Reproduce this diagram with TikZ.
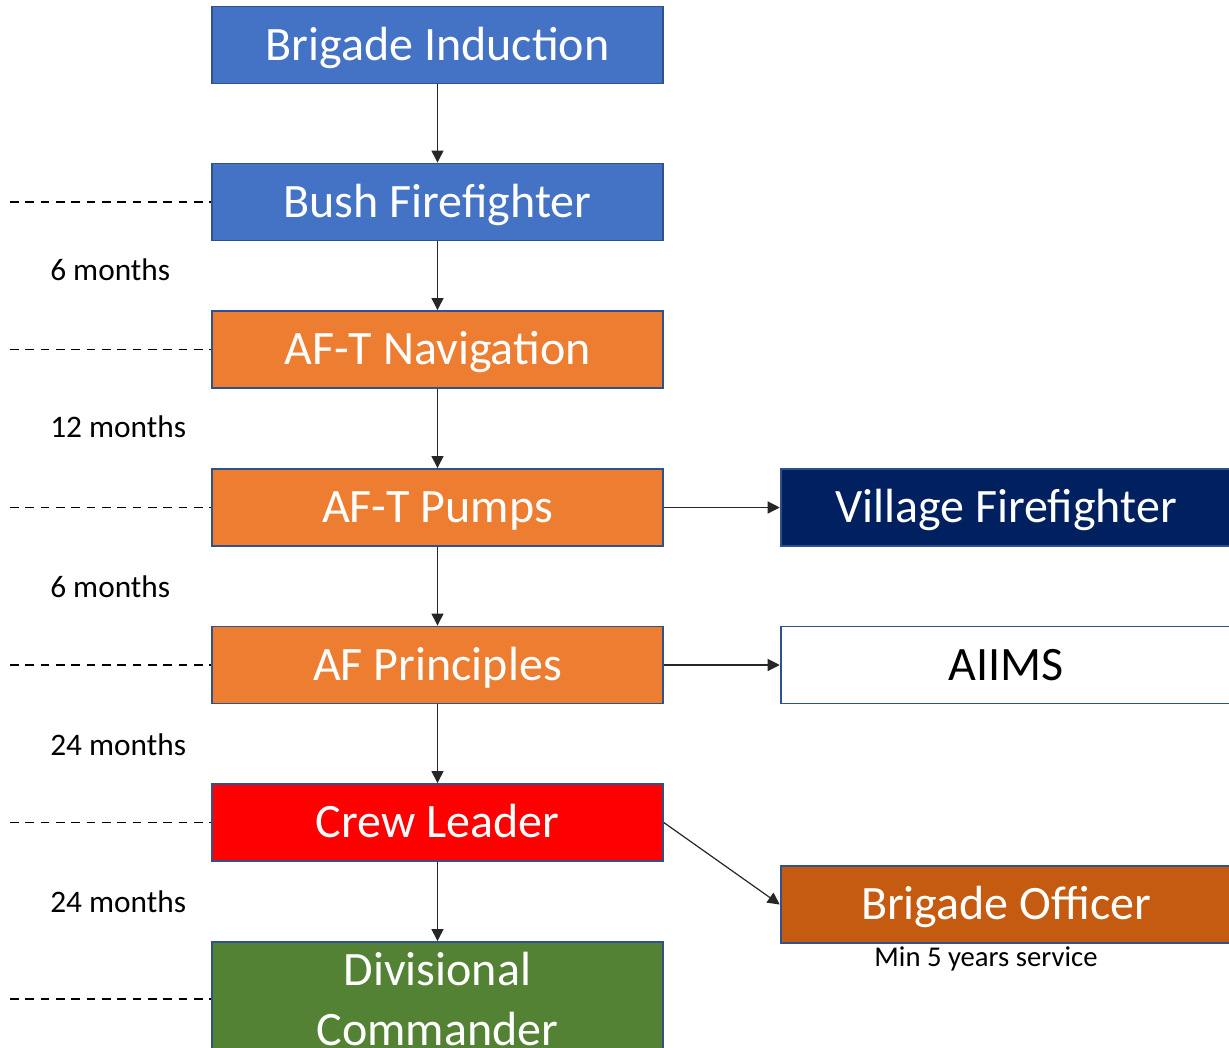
\documentclass[tikz,border=0pt]{standalone}
\usepackage{fontspec}
\setmainfont{Carlito}
\usetikzlibrary{arrows.meta}
\definecolor{cblue}{HTML}{4472C4}
\definecolor{corange}{HTML}{ED7D31}
\definecolor{cnavy}{HTML}{002060}
\definecolor{cred}{HTML}{FF0000}
\definecolor{cbrown}{HTML}{C55A11}
\definecolor{cgreen}{HTML}{548235}
\definecolor{bordc}{HTML}{2F528F}
\begin{document}
\begin{tikzpicture}[x=0.75pt,y=-0.75pt,
  box/.style={draw=bordc, line width=1.4pt, minimum width=338pt, minimum height=57.75pt,
    inner sep=0pt, text=white, font=\fontsize{36}{43}\selectfont, align=center},
  onel/.style={text height=27pt, text depth=4pt},
  conn/.style={draw=black!85, line width=0.9pt, -{Triangle[length=9pt,width=9pt]}},
  guide/.style={draw=black, line width=1.1pt, dash pattern=on 6.5pt off 5pt},
  lbl/.style={font=\fontsize{23.5}{28}\selectfont, anchor=west, inner sep=0pt},
  note/.style={font=\fontsize{21.5}{26}\selectfont, inner sep=0pt}
]
\useasboundingbox (0,0) rectangle (1229,1047);
\clip (0,0) rectangle (1229,1047);

\node[box, onel, fill=cblue] (ind) at (437.5,45) {Brigade Induction};
\node[box, onel, fill=cblue] (bush) at (437.5,202) {Bush Firefighter};
\node[box, onel, fill=corange] (nav) at (437.5,349.5) {AF-T Navigation};
\node[box, onel, fill=corange] (pumps) at (437.5,507.5) {AF-T Pumps};
\node[box, onel, fill=corange] (princ) at (437.5,665) {AF Principles};
\node[box, onel, fill=cred] (crew) at (437.5,822.5) {Crew Leader};
\node[box, fill=cgreen, minimum height=85.5pt] (div) at (437.5,999) {\raisebox{2pt}{Divisional}\\Commander};

\node[box, onel, fill=cnavy] (village) at (1006,507.5) {Village Firefighter};
\node[box, onel, fill=white, text=black] (aiims) at (1006,665) {AIIMS};
\node[box, onel, fill=cbrown] (officer) at (1006,904.5) {Brigade Officer};
\node[note] (min5) at (986,959) {Min 5 years service};

\draw[conn] (ind) -- (bush);
\draw[conn] (bush) -- (nav);
\draw[conn] (nav) -- (pumps);
\draw[conn] (pumps) -- (princ);
\draw[conn] (princ) -- (crew);
\draw[conn] (crew) -- (div);
\draw[conn] (pumps) -- (village);
\draw[conn] (princ) -- (aiims);
\draw[conn] (crew.east) -- (officer.west);

\coordinate (g1) at (10,202);
\coordinate (g2) at (10,349.5);
\coordinate (g3) at (10,507.5);
\coordinate (g4) at (10,665);
\coordinate (g5) at (10,822.5);
\coordinate (g6) at (10,999);
\draw[guide] (g1) -- (bush.west);
\draw[guide] (g2) -- (nav.west);
\draw[guide] (g3) -- (pumps.west);
\draw[guide] (g4) -- (princ.west);
\draw[guide] (g5) -- (crew.west);
\draw[guide] (g6) -- (div.west);

\node[lbl] (l1) at (50,270) {6 months};
\node[lbl] (l2) at (50,427) {12 months};
\node[lbl] (l3) at (50,587) {6 months};
\node[lbl] (l4) at (50,745) {24 months};
\node[lbl] (l5) at (50,902) {24 months};
\end{tikzpicture}
\end{document}
